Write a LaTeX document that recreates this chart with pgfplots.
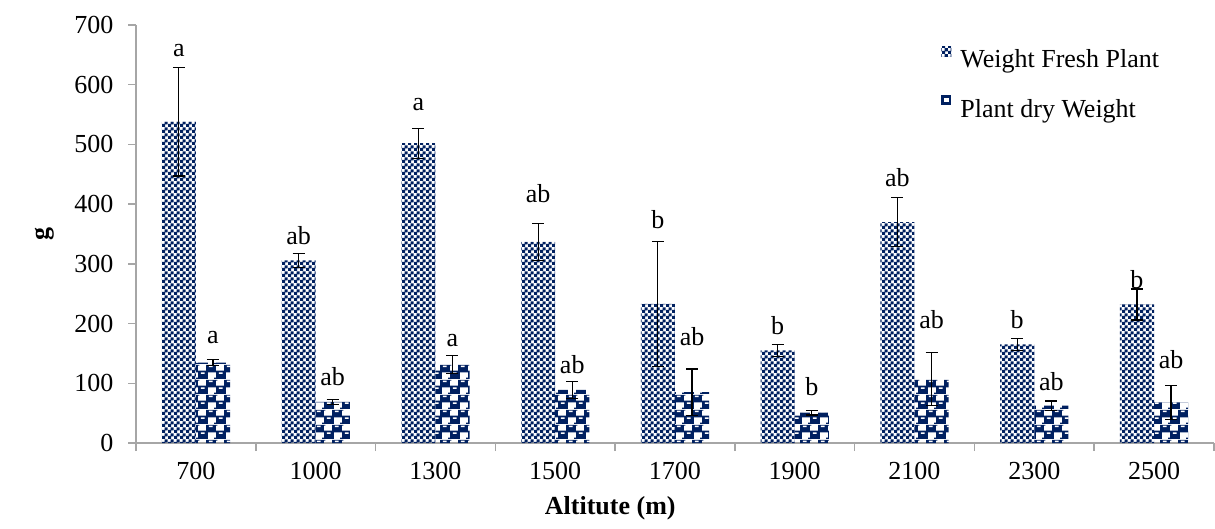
\documentclass[border=0pt]{standalone}
\usepackage{pgfplots}
\pgfplotsset{compat=1.18}
\usepackage{pgfplotstable}
\usepackage{fontspec}
\setmainfont{Liberation Serif}
\usetikzlibrary{patterns}
\definecolor{navy}{RGB}{0,32,96}
\definecolor{axgray}{RGB}{166,166,166}
\newcommand{\bigf}{\fontsize{26pt}{30pt}\selectfont}

\pgfdeclarepatternformonly{freshpat}{\pgfqpoint{0pt}{0pt}}{\pgfqpoint{6pt}{6pt}}{\pgfqpoint{6pt}{6pt}}{%
  \pgfpathrectangle{\pgfqpoint{0pt}{0pt}}{\pgfqpoint{3.5pt}{3.5pt}}%
  \pgfpathrectangle{\pgfqpoint{3pt}{3pt}}{\pgfqpoint{3.5pt}{3.5pt}}%
  \pgfusepath{fill}%
}
\pgfdeclarepatterninherentlycolored{drypat}{\pgfqpoint{0pt}{0pt}}{\pgfqpoint{18pt}{15pt}}{\pgfqpoint{18pt}{15pt}}{%
  \pgfsetfillcolor{navy}%
  \pgfpathrectangle{\pgfqpoint{0pt}{0pt}}{\pgfqpoint{10.5pt}{8.8pt}}%
  \pgfpathrectangle{\pgfqpoint{8.5pt}{7pt}}{\pgfqpoint{9.5pt}{8pt}}%
  \pgfpathrectangle{\pgfqpoint{17pt}{0pt}}{\pgfqpoint{1pt}{1.5pt}}%
  \pgfpathrectangle{\pgfqpoint{0pt}{14pt}}{\pgfqpoint{1.5pt}{1pt}}%
  \pgfusepath{fill}%
  \pgfsetfillcolor{white}%
  \pgfpathrectangle{\pgfqpoint{3pt}{5.5pt}}{\pgfqpoint{4pt}{1.5pt}}%
  \pgfpathrectangle{\pgfqpoint{11.5pt}{12.5pt}}{\pgfqpoint{4pt}{1.5pt}}%
  \pgfusepath{fill}%
}

\pgfplotstableread{
x fresh freshErr dry dryErr
0 538 91 134.5 5
1 306 12 69 4.5
2 502 25 132 15
3 337 31 89 14
4 233 105 85 39
5 155 10 51 4
6 370 41 107 44
7 165 10 62.5 8
8 232 26 68 28.5
}\datatab

\pgfplotstableread{
x y t
-0.1425 657 a
0.8575 348 ab
1.8575 566 a
2.8575 418 ab
3.8575 374 b
4.8575 196 b
5.8575 444 ab
6.8575 206 b
7.8575 274 b
}\freshlab

\pgfplotstableread{
x y t
0.1425 176 a
1.1425 111 ab
2.1425 172 a
3.1425 131 ab
4.1425 178 ab
5.1425 94 b
6.1425 206 ab
7.1425 103 ab
8.1425 140 ab
}\drylab

\begin{document}
\begin{tikzpicture}
\path[use as bounding box] (0,0) rectangle (1215pt,528pt);
\begin{axis}[
  at={(136pt,85pt)}, anchor=south west,
  scale only axis, width=1078pt, height=418pt,
  xmin=-0.5, xmax=8.5, ymin=0, ymax=700,
  clip=false,
  /pgf/number format/assume math mode=true,
  xtick={0,...,8},
  xticklabels={700,1000,1300,1500,1700,1900,2100,2300,2500},
  minor xtick={-0.5,0.5,...,8.5},
  ytick={0,100,...,700},
  axis x line*=bottom, axis y line*=left,
  axis line style={axgray, line width=1.5pt},
  tick align=outside,
  major tick length=8pt, minor tick length=8pt,
  every tick/.style={axgray, line width=1.5pt},
  major x tick style={draw=none},
  xticklabel style={font=\bigf, yshift=-8pt},
  yticklabel style={font=\bigf, xshift=-11pt},
  xlabel style={at={(axis description cs:0.44,0)}, anchor=center, yshift=-65pt, font=\bigf\bfseries},
  ylabel style={at={(axis description cs:-0.0844,0.5)}, anchor=center, font=\bigf\bfseries},
  xlabel={Altitute (m)},
  ylabel={g},
  legend style={at={(axis description cs:0.747,0.95)}, anchor=north west, draw=none, fill=none, font=\bigf, row sep=24pt, inner sep=0pt},
  legend cell align=left,
]
\addplot[ybar, bar width=0.285, bar shift=0, draw=none, pattern=freshpat, pattern color=navy,
  legend image code/.code={\path[pattern=freshpat, pattern color=navy] (0pt,3.5pt) rectangle (10pt,13.5pt); \path (17pt,0pt);},
  error bars/.cd, y dir=both, y explicit,
  error bar style={draw=black, line width=1.2pt},
  error mark options={draw=black, rotate=90, mark size=6pt, line width=1.2pt}]
  table[x expr=\thisrow{x}-0.1425, y=fresh, y error=freshErr]{\datatab};
\addlegendentry{Weight Fresh Plant}
\addplot[ybar, bar width=0.285, bar shift=0, draw=none, pattern=drypat,
  legend image code/.code={\fill[navy] (0pt,3.5pt) rectangle (10pt,13.5pt); \fill[white] (2.5pt,7pt) rectangle (7.5pt,10.5pt); \path (17pt,0pt);},
  error bars/.cd, y dir=both, y explicit,
  error bar style={draw=black, line width=1.2pt},
  error mark options={draw=black, rotate=90, mark size=6pt, line width=1.2pt}]
  table[x expr=\thisrow{x}+0.1425, y=dry, y error=dryErr]{\datatab};
\addlegendentry{Plant dry Weight}
\addplot[draw=none, mark=none, nodes near coords, point meta=explicit symbolic,
  nodes near coords style={anchor=center, font=\bigf, text=black}, forget plot]
  table[x=x, y=y, meta=t]{\freshlab};
\addplot[draw=none, mark=none, nodes near coords, point meta=explicit symbolic,
  nodes near coords style={anchor=center, font=\bigf, text=black}, forget plot]
  table[x=x, y=y, meta=t]{\drylab};
\end{axis}
\end{tikzpicture}
\end{document}
